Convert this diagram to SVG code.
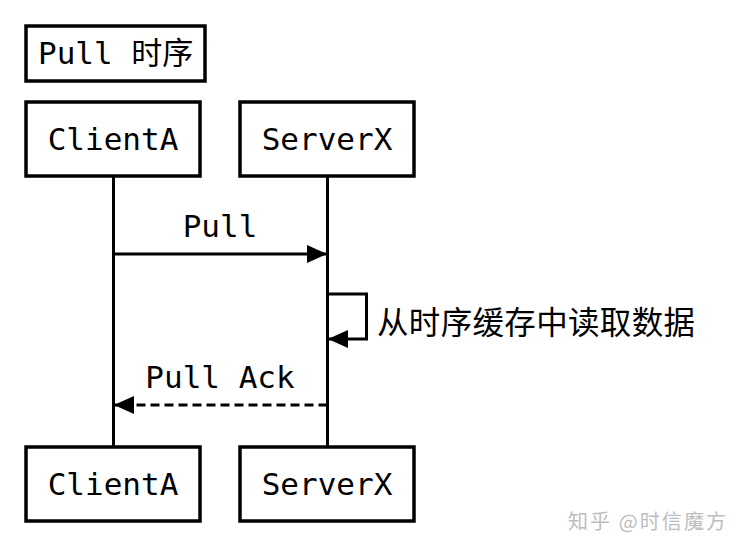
<svg xmlns="http://www.w3.org/2000/svg" width="744" height="554" viewBox="0 0 744 554">
<style>
.box{fill:#fff;stroke:#000;stroke-width:3.5}
.mono{font-family:"DejaVu Sans Mono","Noto Sans CJK SC",monospace;font-size:31px;fill:#000}
.cjk{font-family:"Noto Sans CJK SC","DejaVu Sans",sans-serif;font-size:31.5px;fill:#000}
.life{stroke:#000;stroke-width:3;fill:none}
.msg{stroke:#000;stroke-width:3;fill:none}
</style>
<defs>
<marker id="ah" markerWidth="20" markerHeight="18" refX="20" refY="9" orient="auto" markerUnits="userSpaceOnUse">
<path d="M0,0 L20,9 L0,18 Z" fill="#000"/>
</marker>
</defs>
<rect width="744" height="554" fill="#fff"/>
<g id="title">
<rect class="box" x="26" y="26" width="179" height="55"/>
<text class="mono" x="38" y="64">Pull 时序</text>
</g>
<g id="connectors">
<line class="life" x1="113.5" y1="177" x2="113.5" y2="447"/>
<line class="life" x1="327.5" y1="177" x2="327.5" y2="447"/>
<line class="msg" x1="113.5" y1="254" x2="327" y2="254" marker-end="url(#ah)"/>
<polyline class="msg" points="327.5,294 366.5,294 366.5,339 328,339" marker-end="url(#ah)"/>
<line class="msg" x1="327.5" y1="405" x2="114" y2="405" stroke-dasharray="9,5" marker-end="url(#ah)"/>
<text class="mono" x="220" y="237" text-anchor="middle">Pull</text>
<text class="cjk" x="377" y="334" textLength="318" lengthAdjust="spacing">从时序缓存中读取数据</text>
<text class="mono" x="220" y="388" text-anchor="middle">Pull Ack</text>
</g>
<g id="clientA-top">
<rect class="box" x="26" y="102" width="174" height="74"/>
<text class="mono" x="113" y="150" text-anchor="middle">ClientA</text>
</g>
<g id="serverX-top">
<rect class="box" x="240" y="102" width="174" height="74"/>
<text class="mono" x="327" y="150" text-anchor="middle">ServerX</text>
</g>
<g id="clientA-bottom">
<rect class="box" x="26" y="447" width="174" height="74"/>
<text class="mono" x="113" y="495" text-anchor="middle">ClientA</text>
</g>
<g id="serverX-bottom">
<rect class="box" x="240" y="447" width="174" height="74"/>
<text class="mono" x="327" y="495" text-anchor="middle">ServerX</text>
</g>
<text x="568" y="529" font-family="'Noto Sans CJK SC',sans-serif" font-size="20" fill="#bdbdbd" textLength="158" lengthAdjust="spacing">知乎 @时信魔方</text>
</svg>
